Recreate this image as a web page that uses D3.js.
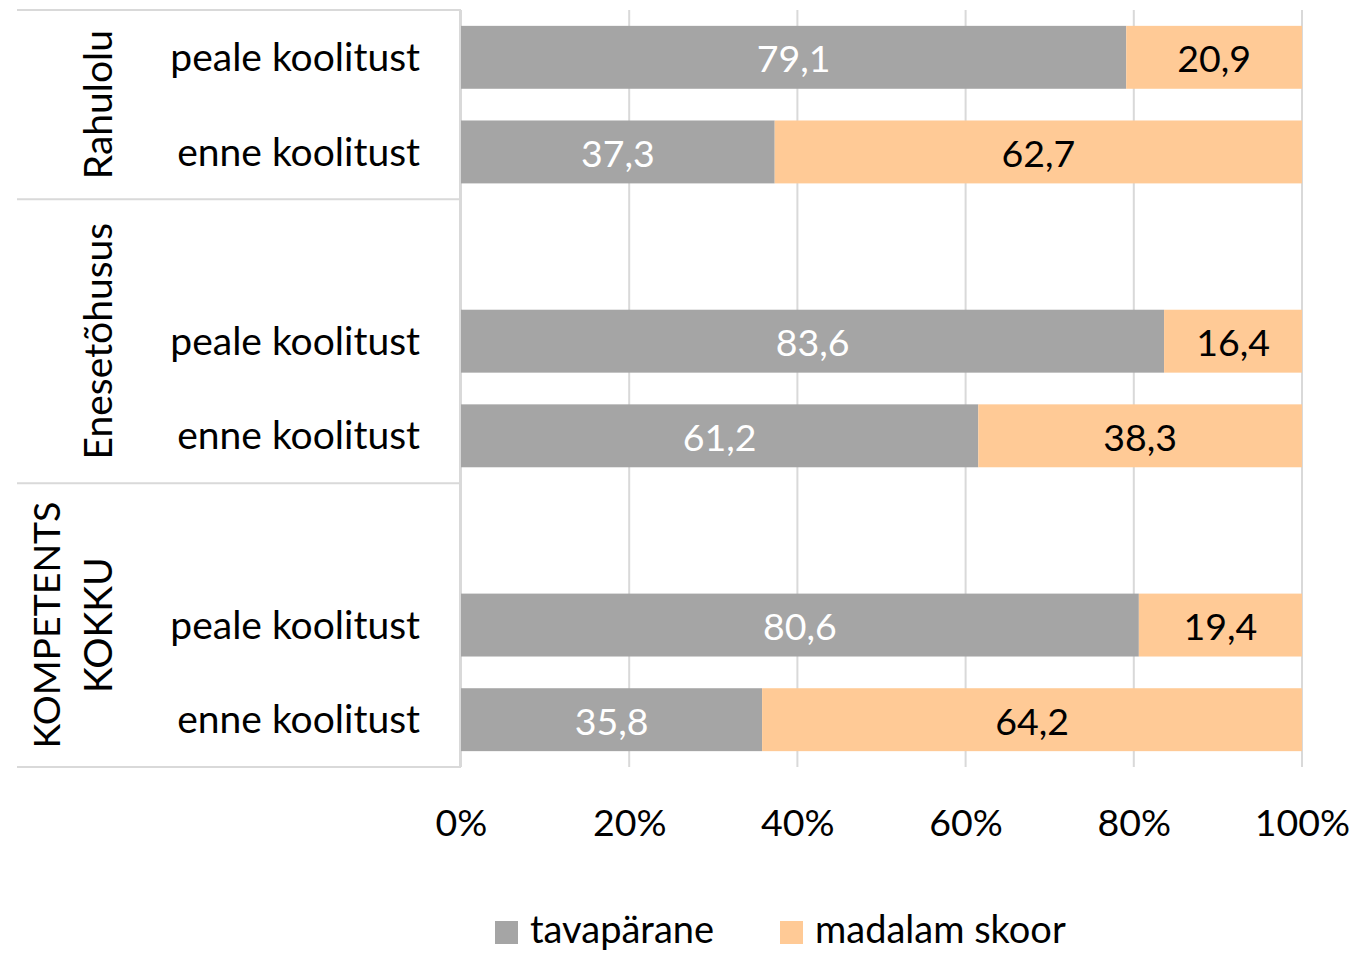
<!DOCTYPE html>
<html><head><meta charset="utf-8">
<script src="https://cdn.jsdelivr.net/npm/d3@7"></script>
<style>body{margin:0;background:#fff}svg{display:block}text{font-family:Lato,"Open Sans",sans-serif}</style>
</head><body><svg id="c" width="1354" height="953"></svg>
<script>
const groups = ["Rahulolu","Rahulolu","Enesetõhusus","Enesetõhusus","Enesetõhusus","KOMPETENTS KOKKU","KOMPETENTS KOKKU","KOMPETENTS KOKKU"];
const categories = ["peale koolitust","enne koolitust","","peale koolitust","enne koolitust","","peale koolitust","enne koolitust"];
const tavaparane = [79.1,37.3,null,83.6,61.2,null,80.6,35.8];
const madalam = [20.9,62.7,null,16.4,38.3,null,19.4,64.2];
const seriesNames = ["tavapärane","madalam skoor"];
const colors = ["#A5A5A5","#FFCA96"];
const ticks = [0,0.2,0.4,0.6,0.8,1];

const svg = d3.select("#c");
const L=461,R=1302,T=10,B=767;
const x = d3.scaleLinear().domain([0,1]).range([L,R]);
const ids = categories.map((c,i)=>i);
const y = d3.scaleBand().domain(ids).range([T,B]).paddingInner(0.335).paddingOuter(0.1675);
const fmt = v => d3.format(".1f")(v).replace(".",",");
const grid="#D9D9D9";
const FW=39, FN=37.5;

svg.append("g").selectAll("line").data(ticks).join("line")
 .attr("x1",d=>x(d)).attr("x2",d=>x(d)).attr("y1",T).attr("y2",B)
 .attr("stroke",grid).attr("stroke-width",2);

const gNames = Array.from(new Set(groups));
const gExt = gNames.map(g=>{const idx=ids.filter(i=>groups[i]===g);
  return {g, y0:y(idx[0])-y.step()*y.paddingInner()/2, y1:y(idx[idx.length-1])+y.bandwidth()+y.step()*y.paddingInner()/2};});
gExt[0].y0=T; gExt[gExt.length-1].y1=B;
const seps=[T,...gExt.map(e=>e.y1)];
svg.append("g").selectAll("line").data(seps).join("line")
 .attr("x1",17).attr("x2",L).attr("y1",d=>d).attr("y2",d=>d).attr("stroke",grid).attr("stroke-width",2);
svg.append("line").attr("x1",L-1).attr("x2",L-1).attr("y1",T).attr("y2",B).attr("stroke",grid).attr("stroke-width",2);

const rows = ids.filter(i=>tavaparane[i]!=null).map(i=>{
  const tot=tavaparane[i]+madalam[i];
  return {i, a:tavaparane[i], b:madalam[i], pa:tavaparane[i]/tot};
});
const bars=svg.append("g");
rows.forEach(r=>{
  const yy=y(r.i), h=y.bandwidth();
  bars.append("rect").attr("x",x(0)).attr("y",yy).attr("width",x(r.pa)-x(0)).attr("height",h).attr("fill",colors[0]);
  bars.append("rect").attr("x",x(r.pa)).attr("y",yy).attr("width",x(1)-x(r.pa)).attr("height",h).attr("fill",colors[1]);
  bars.append("text").attr("x",(x(0)+x(r.pa))/2).attr("y",yy+h/2+2).attr("dy","0.35em").attr("text-anchor","middle")
    .attr("font-size",FN).attr("fill","#fff").text(fmt(r.a));
  bars.append("text").attr("x",(x(r.pa)+x(1))/2).attr("y",yy+h/2+2).attr("dy","0.35em").attr("text-anchor","middle")
    .attr("font-size",FN).attr("fill","#000").text(fmt(r.b));
});

svg.append("g").selectAll("text").data(ids.filter(i=>categories[i])).join("text")
 .attr("x",420).attr("y",i=>y(i)+y.bandwidth()/2).attr("dy","0.35em").attr("text-anchor","end")
 .attr("font-size",FW).attr("fill","#000").text(i=>categories[i]);

gExt.forEach(e=>{
  const words = e.g.split(" ");
  const cy=(e.y0+e.y1)/2;
  words.forEach((w,k)=>{
    const cx = 98-(words.length-1-k)*51;
    svg.append("text").attr("transform",`translate(${cx},${cy}) rotate(-90)`).attr("text-anchor","middle")
     .attr("dy","0.35em").attr("font-size",w.length>8&&w===w.toUpperCase()?37.5:FW).attr("fill","#000").text(w);
  });
});

const ax = d3.axisBottom(x).tickValues(ticks).tickFormat(d3.format(".0%")).tickSize(0).tickPadding(0);
const axg=svg.append("g").attr("transform",`translate(0,${B})`).call(ax);
axg.select(".domain").remove();
axg.selectAll("text").attr("y",56).attr("dy","0.35em").attr("font-size",FN).attr("fill","#000").attr("font-family","Lato");

const leg=svg.append("g");
const lx=[495,780];
seriesNames.forEach((s,k)=>{
  leg.append("rect").attr("x",lx[k]).attr("y",921).attr("width",23).attr("height",23).attr("fill",colors[k]);
  leg.append("text").attr("x",lx[k]+35).attr("y",930).attr("dy","0.35em").attr("font-size",38).attr("fill","#000").text(s);
});
</script></body></html>
